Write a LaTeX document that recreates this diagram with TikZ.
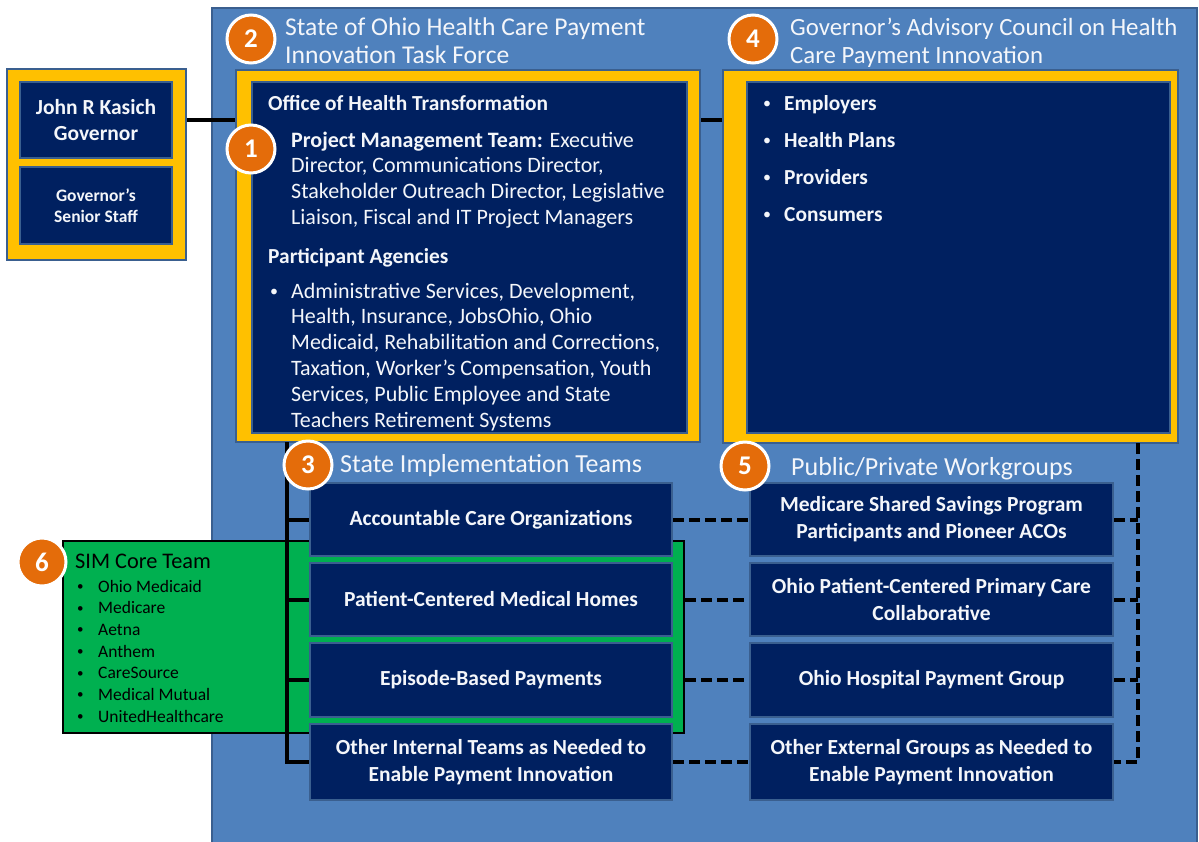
\documentclass[tikz,border=0pt]{standalone}
\usepackage{fontspec}
\setmainfont{Carlito}
\definecolor{bgblue}{HTML}{4F81BD}
\definecolor{bgedge}{HTML}{3A5F8F}
\definecolor{navy}{HTML}{002060}
\definecolor{ygold}{HTML}{FFC000}
\definecolor{orng}{HTML}{E46C0A}
\definecolor{simgreen}{HTML}{00B050}
\definecolor{ltxt}{HTML}{F4F6FA}
\newcommand{\fsz}[2]{\fontsize{#1}{#2}\selectfont}
\begin{document}
\begin{tikzpicture}[x=1pt,y=-1pt,
  panel/.style={draw=bgedge,fill=bgblue,line width=2,inner sep=0},
  frame/.style={draw=bgedge,fill=ygold,line width=2,inner sep=0},
  nbox/.style={draw=bgedge,fill=navy,line width=2.5,inner sep=0,text=ltxt,font=\bfseries\fsz{21.5}{27},align=center},
  gbox/.style={draw=black,fill=simgreen,line width=2,inner sep=0},
  num/.style={circle,fill=orng,draw=white,line width=3,minimum size=48,inner sep=0,text=white,font=\bfseries\fsz{27}{30}},
  ttl/.style={anchor=base west,inner sep=0,text=ltxt,align=left,font=\fsz{25.6}{28}},
  sttl/.style={anchor=base west,inner sep=0,text=ltxt,font=\fsz{26}{28}},
  body/.style={anchor=base west,inner sep=0,text=ltxt,align=left,font=\fsz{22}{25.8}},
  bbody/.style={body,font=\bfseries\fsz{21.4}{25.8}},
  bul/.style={anchor=base west,inner sep=0,text=ltxt,font=\fsz{16}{18}},
  simtxt/.style={anchor=base west,inner sep=0,text=black,font=\fsz{17.5}{20}},
  simbul/.style={anchor=base west,inner sep=0,text=black,font=\fsz{13}{15}},
  solidline/.style={draw=black,line width=4},
  dashline/.style={draw=black,line width=4,dash pattern=on 11 off 5},
]
\useasboundingbox (0,0) rectangle (1199,841);
% panel and frames
\node[panel,minimum width=985,minimum height=842] (panel) at (704.5,429) {};
\node[frame,minimum width=179,minimum height=191] (govframe) at (96.5,164.5) {};
\node[nbox,minimum width=152,minimum height=76,font=\bfseries\fsz{21.5}{26.5}] (gov) at (96,120) {John R Kasich\\Governor};
\node[nbox,minimum width=152,minimum height=77,font=\bfseries\fsz{17.5}{21}] (staff) at (96,205.5) {Governor’s\\Senior Staff};
\node[frame,minimum width=464,minimum height=372] (tfframe) at (468,256) {};
\node[nbox,minimum width=435,minimum height=351] (tfinner) at (469.5,257.5) {};
\node[frame,minimum width=455,minimum height=373] (acframe) at (950.5,256.5) {};
\node[nbox,minimum width=423,minimum height=351] (acinner) at (958.5,257.5) {};
% task force text (base anchor = last line's baseline)
\node[bbody] (oht) at (268,110) {Office of Health Transformation};
\node[body] (pmt) at (291,224.4) {\textbf{Project Management Team:} Executive\\Director, Communications Director,\\Stakeholder Outreach Director, Legislative\\Liaison, Fiscal and IT Project Managers};
\node[bbody] (pa) at (268,263) {Participant Agencies};
\node[bul] (pab) at (270,296) {\textbullet};
\node[body] (pal) at (291,427) {Administrative Services, Development,\\Health, Insurance, JobsOhio, Ohio\\Medicaid, Rehabilitation and Corrections,\\Taxation, Worker’s Compensation, Youth\\Services, Public Employee and State\\Teachers Retirement Systems};
% advisory council list
\foreach \t [count=\i] in {Employers,Health Plans,Providers,Consumers}{
  \node[bul] (acb\i) at (763,71+37*\i) {\textbullet};
  \node[bbody] (act\i) at (784,73+37*\i) {\t};
}
% SIM core team
\node[gbox,minimum width=621,minimum height=192] (sim) at (373.5,637) {};
\node[simtxt,font=\fsz{22.3}{24}] (simt) at (75,568) {SIM Core Team};
\foreach \t [count=\i] in {Ohio Medicaid,Medicare,Aetna,Anthem,CareSource,Medical Mutual,UnitedHealthcare}{
  \node[simbul] (simb\i) at (77,568.83+21.67*\i) {\textbullet};
  \node[simtxt] (simi\i) at (98,570.33+21.67*\i) {\t};
}
% team boxes
\node[nbox,minimum width=362,minimum height=73] (aco) at (491,519.5) {Accountable Care Organizations};
\node[nbox,minimum width=362,minimum height=73] (pcmh) at (491,599.5) {Patient-Centered Medical Homes};
\node[nbox,minimum width=362,minimum height=74] (ebp) at (491,680) {Episode-Based Payments};
\node[nbox,minimum width=362,minimum height=76] (oit) at (491,762) {Other Internal Teams as Needed to\\Enable Payment Innovation};
\node[nbox,minimum width=363,minimum height=73] (msp) at (931.5,519.5) {Medicare Shared Savings Program\\Participants and Pioneer ACOs};
\node[nbox,minimum width=363,minimum height=73] (opc) at (931.5,599.5) {Ohio Patient-Centered Primary Care\\Collaborative};
\node[nbox,minimum width=363,minimum height=74] (ohp) at (931.5,680) {Ohio Hospital Payment Group};
\node[nbox,minimum width=363,minimum height=76] (oeg) at (931.5,762) {Other External Groups as Needed to\\Enable Payment Innovation};
% connectors
\draw[solidline] (gov.east -| govframe.east) -- (gov.east -| tfframe.west);
\draw[solidline] (gov.east -| tfframe.east) -- (gov.east -| acframe.west);
\coordinate (lb) at (287,442);
\draw[solidline] (lb) |- (oit.west);
\foreach \b in {aco,pcmh,ebp} \draw[solidline] (\b.west -| lb) -- (\b.west);
\draw[dashline] (aco.east) -- (msp.west);
\draw[dashline] (pcmh.east -| sim.east) -- (opc.west);
\draw[dashline] (ebp.east -| sim.east) -- (ohp.west);
\draw[dashline] (oit.east) -- (oeg.west);
\coordinate (rb) at (1138,443);
\draw[dashline] (rb) |- (oeg.east);
\foreach \b in {msp,opc,ohp} \draw[dashline] (\b.east) -- (\b.east -| rb);
% titles
\node[ttl] (t2) at (285,63) {State of Ohio Health Care Payment\\Innovation Task Force};
\node[ttl,font=\fsz{24.8}{28}] (t4) at (790,63) {Governor’s Advisory Council on Health\\Care Payment Innovation};
\node[sttl] (t3) at (340,472) {State Implementation Teams};
\node[sttl] (t5) at (791,475) {Public/Private Workgroups};
% numbers
\node[num] (n1) at (251,149) {1};
\node[num] (n2) at (251,39) {2};
\node[num] (n3) at (308,465) {3};
\node[num] (n4) at (753,39) {4};
\node[num] (n5) at (745,466) {5};
\node[num] (n6) at (42,562) {6};
\end{tikzpicture}
\end{document}
